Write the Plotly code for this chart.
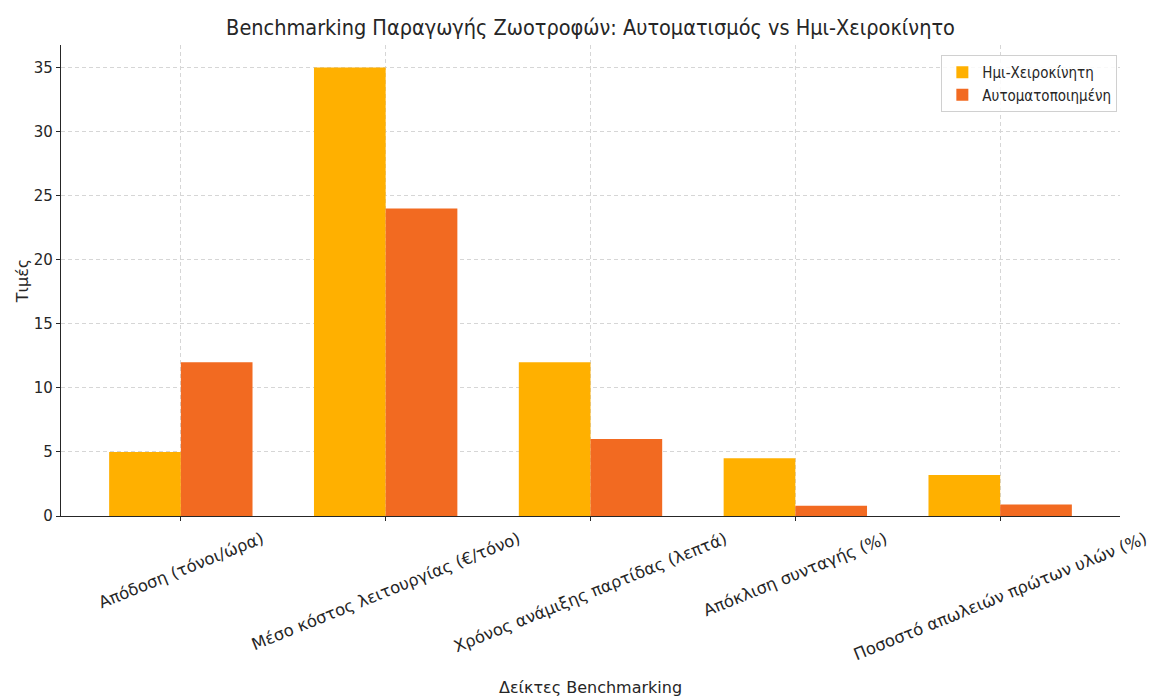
import plotly.graph_objects as go

categories = ["Απόδοση (τόνοι/ώρα)", "Μέσο κόστος λειτουργίας (€/τόνο)",
              "Χρόνος ανάμιξης παρτίδας (λεπτά)", "Απόκλιση συνταγής (%)",
              "Ποσοστό απωλειών πρώτων υλών (%)"]
semi_manual = [5, 35, 12, 4.5, 3.2]
automated = [12, 24, 6, 0.8, 0.9]
series_names = ["Ημι-Χειροκίνητη", "Αυτοματοποιημένη"]
yticks = [0, 5, 10, 15, 20, 25, 30, 35]

YELLOW = "#FFB000"
ORANGE = "#F26A21"
COND = "DejaVu Sans Condensed, DejaVu Sans"
FONT = "DejaVu Sans"
TXT = "#262626"

xs = list(range(len(categories)))
w = 0.35
fig = go.Figure()
fig.add_bar(x=[x - w / 2 for x in xs], y=semi_manual, width=w, name=series_names[0],
            marker=dict(color=YELLOW, line=dict(width=0)))
fig.add_bar(x=[x + w / 2 for x in xs], y=automated, width=w, name=series_names[1],
            marker=dict(color=ORANGE, line=dict(width=0)))

for x, lab in zip(xs, categories):
    fig.add_annotation(x=x, y=0, xref="x", yref="paper", text=lab, showarrow=False,
                       textangle=-22, xanchor="center", yanchor="top", yshift=-10,
                       font=dict(family=FONT, size=16.5, color=TXT))

fig.add_annotation(x=0.5, y=-(687 - 516) / 471, xref="paper", yref="paper",
                   yanchor="middle", text="Δείκτες Benchmarking", showarrow=False,
                   font=dict(family=FONT, size=16, color=TXT))

fig.update_layout(
    width=1151, height=697,
    margin=dict(l=61, r=31, t=45, b=181, autoexpand=False),
    paper_bgcolor="white", plot_bgcolor="white",
    barmode="overlay",
    title=dict(text="Benchmarking Παραγωγής Ζωοτροφών: Αυτοματισμός vs Ημι-Χειροκίνητο",
               x=0.5, xref="paper", xanchor="center", y=1 - 27 / 697, yanchor="middle",
               font=dict(family=COND, size=21.5, color=TXT)),
    showlegend=True,
    legend=dict(x=0.9975, y=0.979, xanchor="right", yanchor="top",
                bgcolor="rgba(255,255,255,0.85)", bordercolor="#d0d0d0", borderwidth=1,
                font=dict(family=COND, size=15, color=TXT),
                itemwidth=30, tracegroupgap=2),
    font=dict(family=FONT, color=TXT),
)
fig.update_xaxes(range=[-0.585, 4.585], tickvals=xs, ticktext=[""] * len(xs),
                 showgrid=True, gridcolor="#d6d6d6", griddash="4px,3px", gridwidth=1,
                 showline=True, linecolor=TXT, linewidth=1.2, automargin=False,
                 ticks="outside", ticklen=4, tickcolor=TXT, zeroline=False)
fig.update_yaxes(range=[0, 36.75], tickvals=yticks, automargin=False,
                 showgrid=True, gridcolor="#d6d6d6", griddash="4px,3px", gridwidth=1,
                 showline=True, linecolor=TXT, linewidth=1.2,
                 ticks="outside", ticklen=4, tickcolor=TXT, zeroline=False,
                 tickfont=dict(family=FONT, size=15, color=TXT),
                 title=dict(text="Τιμές", standoff=1,
                            font=dict(family=FONT, size=16, color=TXT)))
fig.write_html("out.html", config={"displayModeBar": False},
               post_script="document.body.style.margin='0';")
